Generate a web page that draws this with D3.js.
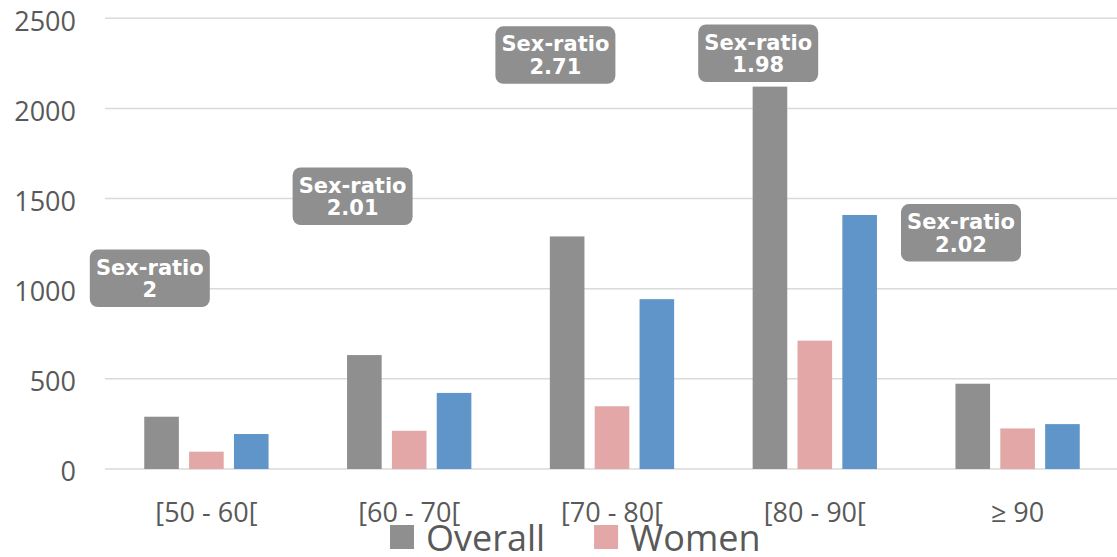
<!DOCTYPE html>
<html>
<head>
<meta charset="utf-8">
<script src="https://cdn.jsdelivr.net/npm/d3@7"></script>
<style>
  html, body { margin: 0; padding: 0; background: #ffffff; }
  svg { display: block; }
</style>
</head>
<body>
<svg id="chart" width="1117" height="557"></svg>
<script>
// Age groups and counts per group
const categories = ["[50 - 60[", "[60 - 70[", "[70 - 80[", "[80 - 90[", "\u2265 90"];
const overall = [290, 632, 1290, 2121, 473];
const women   = [96, 212, 348, 712, 225];
const men     = [194, 422, 942, 1409, 249];
const sexRatio = [2, 2.01, 2.71, 1.98, 2.02];
const yTicks = [0, 500, 1000, 1500, 2000, 2500];
const legendNames = ["Overall", "Women"];

// Height (in count units) at which each sex-ratio callout is centred
const ratioLabelAt = [1058, 1513, 2296, 2306, 1310];

const seriesKeys = ["overall", "women", "men"];
const colors = { overall: "#8f8f8f", women: "#e2a7a6", men: "#5f95c9" };
const textColor = "#595959";

const rows = categories.map((c, i) => ({
  cat: c, overall: overall[i], women: women[i], men: men[i]
}));

const svg = d3.select("#chart");

const plotLeft = 105, plotRight = 1119;
const y = d3.scaleLinear().domain([0, 2500]).range([469, 18.3]);
const x = d3.scaleBand().domain(categories).range([plotLeft, plotRight]).padding(0);

const groupWidth = 124.3;
const xs = d3.scaleBand().domain(seriesKeys).range([0, groupWidth])
  .paddingInner(0.2285).paddingOuter(0);

// Gridlines
svg.append("g")
  .selectAll("line")
  .data(yTicks)
  .join("line")
  .attr("x1", plotLeft)
  .attr("x2", 1117)
  .attr("y1", d => y(d))
  .attr("y2", d => y(d))
  .attr("stroke", "#dadada")
  .attr("stroke-width", 1.5);

// Y axis labels
svg.append("g")
  .selectAll("text")
  .data(yTicks)
  .join("text")
  .attr("x", 76)
  .attr("y", d => y(d) + 12.4)
  .attr("text-anchor", "end")
  .attr("font-family", "'Open Sans', sans-serif")
  .attr("font-size", 27)
  .attr("fill", textColor)
  .text(d => d);

// Bars
const groups = svg.append("g")
  .selectAll("g")
  .data(rows)
  .join("g")
  .attr("transform", d => `translate(${x(d.cat) + (x.bandwidth() - groupWidth) / 2},0)`);

groups.selectAll("rect")
  .data(d => seriesKeys.map(k => ({ key: k, value: d[k] })))
  .join("rect")
  .attr("x", d => xs(d.key))
  .attr("width", xs.bandwidth())
  .attr("y", d => y(d.value))
  .attr("height", d => y(0) - y(d.value))
  .attr("fill", d => colors[d.key]);

// Category labels
svg.append("g")
  .selectAll("text")
  .data(categories)
  .join("text")
  .attr("x", d => x(d) + x.bandwidth() / 2)
  .attr("y", 521.7)
  .attr("text-anchor", "middle")
  .attr("font-family", "'Open Sans', sans-serif")
  .attr("font-size", 27)
  .attr("fill", textColor)
  .text(d => d);

// Sex-ratio callouts
const boxW = 120, boxH = 57.5;
const callouts = svg.append("g")
  .selectAll("g")
  .data(categories.map((c, i) => ({ cat: c, ratio: sexRatio[i], at: ratioLabelAt[i] })))
  .join("g")
  .attr("transform", d => `translate(${x(d.cat) + x.bandwidth() / 2 - 56.6},${y(d.at)})`);

callouts.append("rect")
  .attr("x", -boxW / 2)
  .attr("y", -boxH / 2)
  .attr("width", boxW)
  .attr("height", boxH)
  .attr("rx", 8)
  .attr("fill", "#8f8f8f");

callouts.append("text")
  .attr("text-anchor", "middle")
  .attr("font-family", "'DejaVu Sans', Verdana, sans-serif")
  .attr("font-weight", "bold")
  .attr("font-size", 21)
  .attr("fill", "#ffffff")
  .selectAll("tspan")
  .data(d => ["Sex-ratio", String(d.ratio)])
  .join("tspan")
  .attr("x", 0)
  .attr("y", (d, i) => i === 0 ? -3.7 : 19)
  .text(d => d);

// Legend
const legend = svg.append("g");
let lx = 390;
legendNames.forEach((name, i) => {
  const key = seriesKeys[i];
  legend.append("rect")
    .attr("x", lx)
    .attr("y", 525)
    .attr("width", 24)
    .attr("height", 24)
    .attr("fill", colors[key]);
  const t = legend.append("text")
    .attr("x", lx + 36)
    .attr("y", 550.7)
    .attr("font-family", "'Open Sans', sans-serif")
    .attr("font-size", 36)
    .attr("fill", textColor)
    .text(name);
  lx += 36 + t.node().getComputedTextLength() + 49;
});
</script>
</body>
</html>
